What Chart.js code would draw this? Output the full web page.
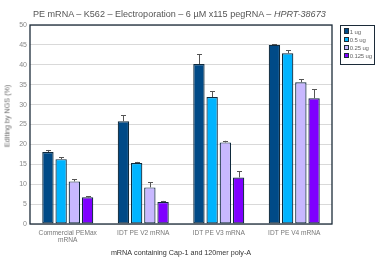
<!DOCTYPE html>
<html><head><meta charset="utf-8">
<script src="https://cdn.jsdelivr.net/npm/chart.js@4/dist/chart.umd.min.js"></script>
<style>
html,body{margin:0;padding:0;background:#fff;}
#wrap{position:relative;width:382px;height:262px;}
#title{position:absolute;left:33px;top:9px;font:9.05px "Liberation Sans",Arial,sans-serif;color:#555;white-space:nowrap;}
#ytitle{position:absolute;left:7px;top:116px;transform:translate(-50%,-50%) rotate(-90deg);font:7.2px "Liberation Sans",Arial,sans-serif;color:#666;white-space:nowrap;}
#legend{position:absolute;left:340px;top:25px;width:35px;height:40px;border:1.3px solid #1c2b39;box-sizing:border-box;padding:1.5px 0 0 2.5px;font:6px "Liberation Sans",Arial,sans-serif;color:#666;}
#legend div{height:8.3px;line-height:8.3px;white-space:nowrap;letter-spacing:-0.15px;}
#legend span{display:inline-block;width:3.3px;height:3.3px;border:0.8px solid #1c2b39;margin-right:1px;vertical-align:0px;}
</style></head>
<body><div id="wrap"><canvas id="c" width="382" height="262"></canvas>
<div id="title">PE mRNA – K562 – Electroporation – 6 µM x115 pegRNA – <i>HPRT-38673</i></div>
<div id="ytitle">Editing by NGS (%)</div>
<div id="legend"></div></div>
<script>
const categories = [["Commercial PEMax","mRNA"],"IDT PE V2 mRNA","IDT PE V3 mRNA","IDT PE V4 mRNA"];
const seriesLabels = ["1 ug","0.5 ug","0.25 ug","0.125 ug"];
const colors = ["#004a87","#00b4ff","#c8b8ff","#7f00ff"];
const dose1 = [18.1, 25.8, 40.2, 45.0];
const dose05 = [16.3, 15.3, 31.9, 42.9];
const dose025 = [10.7, 9.2, 20.5, 35.6];
const dose0125 = [6.7, 5.5, 11.7, 31.6];
const err1 = [0.5, 1.5, 2.4, 0.2];
const err05 = [0.5, 0.3, 1.5, 0.7];
const err025 = [0.5, 1.3, 0.4, 0.8];
const err0125 = [0.3, 0.3, 1.5, 2.2];
const yTicks = [0,5,10,15,20,25,30,35,40,45,50];

const values = [dose1, dose05, dose025, dose0125];
const errs = [err1, err05, err025, err0125];

const lg = document.getElementById('legend');
seriesLabels.forEach((l,i)=>{const d=document.createElement('div');d.innerHTML='<span style="background:'+colors[i]+'"></span>'+l;lg.appendChild(d);});

const errPlugin = {
  id:'err',
  afterDatasetsDraw(chart){
    const ctx=chart.ctx, y=chart.scales.y;
    ctx.save();ctx.strokeStyle='#555';ctx.lineWidth=1;
    chart.data.datasets.forEach((ds,di)=>{
      const meta=chart.getDatasetMeta(di);
      meta.data.forEach((bar,i)=>{
        const top=y.getPixelForValue(ds.data[i]+errs[di][i]);
        const base=y.getPixelForValue(ds.data[i]);
        const x=Math.round(bar.x)+0.5;
        ctx.beginPath();ctx.moveTo(x,base);ctx.lineTo(x,top);
        ctx.moveTo(x-2.5,Math.round(top)+0.5);ctx.lineTo(x+2.5,Math.round(top)+0.5);ctx.stroke();
      });
    });
    const a=chart.chartArea;
    ctx.strokeStyle='#1c2b39';ctx.lineWidth=1.3;
    ctx.strokeRect(a.left,a.top,a.right-a.left,a.bottom-a.top);
    ctx.restore();
  }
};

new Chart(document.getElementById('c'),{
  type:'bar',
  data:{labels:categories,datasets:values.map((v,i)=>({label:seriesLabels[i],data:v,backgroundColor:colors[i],borderColor:'#0f2a3d',borderWidth:1.2,borderSkipped:false,categoryPercentage:0.70,barPercentage:0.86}))},
  options:{
    responsive:false,animation:false,devicePixelRatio:1,
    layout:{padding:{left:0,top:25,right:50,bottom:0}},
    plugins:{legend:{display:false},tooltip:{enabled:false}},
    scales:{
      y:{min:0,max:50,
        afterBuildTicks(s){s.ticks=yTicks.map(v=>({value:v}));},
        afterFit(s){s.width=30;},
        ticks:{font:{family:'Liberation Sans',size:7},color:'#888',padding:3},
        grid:{color:'#d9d9d9',lineWidth:1,drawTicks:false},
        border:{display:false},
        title:{display:false}
      },
      x:{
        afterFit(s){s.height=38;},
        ticks:{font:{family:'Liberation Sans',size:6.6,lineHeight:1.15},color:'#777',padding:5,maxRotation:0,autoSkip:false},
        grid:{display:false,drawTicks:false},border:{display:false},
        title:{display:true,text:'mRNA containing Cap-1 and 120mer poly-A',font:{family:'Liberation Sans',size:7.2},color:'#333',padding:{top:0,bottom:4.5}}
      }
    }
  },
  plugins:[errPlugin]
});
</script></body></html>
